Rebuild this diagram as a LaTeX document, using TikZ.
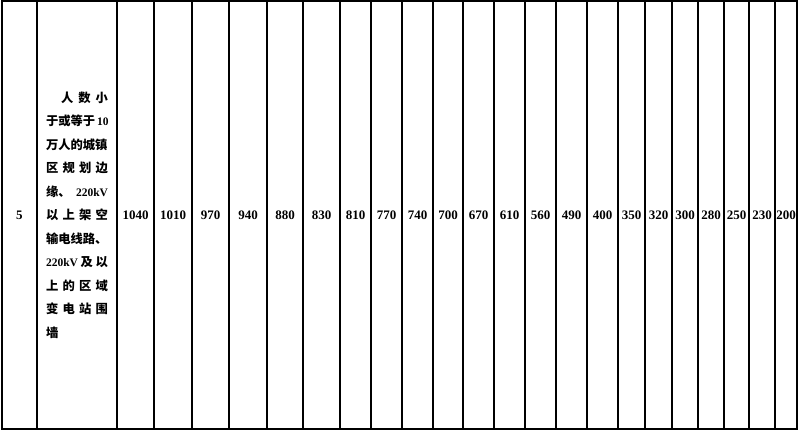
\documentclass[tikz,border=0pt]{standalone}
\usepackage{fontspec}
\setmainfont{Liberation Serif}
\newfontfamily\cjk{Noto Sans CJK SC}
\newfontfamily\latb{Liberation Serif}[UprightFont=* Bold]
\newcommand{\rowline}[1]{\makebox[62pt][s]{#1}}
\newcommand{\lat}[1]{{\latb\fontsize{11.5}{11.5}\selectfont #1}}
\tikzset{
  cell/.style={draw, line width=1.2pt, minimum height=428, inner sep=0pt},
  num/.style={font=\latb\fontsize{13}{13}\selectfont},
  desc/.style={font=\cjk\bfseries\fontsize{12.3}{23.5}\selectfont, align=center}
}
\begin{document}
\begin{tikzpicture}[x=1pt, y=-1pt]
\useasboundingbox (0,0) rectangle (800,433);
\node[cell, num, minimum width=35] (no) at (19.5,215) {5};
\node[cell, desc, minimum width=80] (place) at (77,215) {%
\makebox[62pt][r]{人\hspace{5pt}数\hspace{5pt}小}\\
\rowline{于或等于 \lat{10}}\\
\rowline{万人的城镇}\\
\rowline{区 规 划 边}\\
\rowline{缘、 \lat{220kV}}\\
\rowline{以 上 架 空}\\
\rowline{输电线路、}\\
\rowline{\lat{220kV} 及 以}\\
\rowline{上 的 区 域}\\
\rowline{变 电 站 围}\\
\makebox[62pt][l]{墙}};
\foreach \l/\r/\v [count=\i] in {117/154/1040, 154/192/1010, 192/229/970, 229/267/940,
  267/303/880, 303/340/830, 340/371/810, 371/402/770, 402/433/740, 433/463/700,
  463/494/670, 494/525/610, 525/556/560, 556/587/490, 587/618/400, 618/645/350,
  645/672/320, 672/698/300, 698/724/280, 724/749/250, 749/775/230, 775/797/200}
  \node[cell, num, minimum width={\r-\l}] (d\i) at ({(\l+\r)/2},215) {\v};
\end{tikzpicture}
\end{document}
